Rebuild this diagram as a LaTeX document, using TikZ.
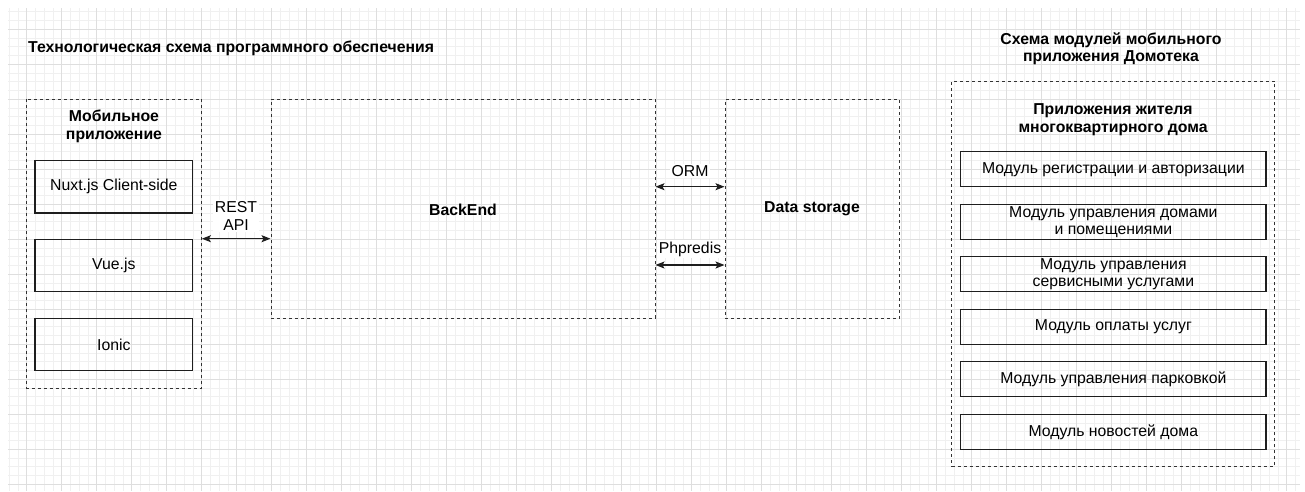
\documentclass[tikz,border=0pt]{standalone}
\usepackage{fontspec}
\setmainfont{Liberation Sans}
\usetikzlibrary{arrows.meta}
\definecolor{minorgrid}{HTML}{F0F0F0}
\definecolor{majorgrid}{HTML}{DEDEDE}
\definecolor{dashcol}{HTML}{333333}
\definecolor{boxcol}{HTML}{1E1E1E}
\tikzset{
  txt/.style={font=\fontsize{15.8}{17.8}\selectfont, inner sep=0pt, align=center},
  btxt/.style={txt, font=\fontsize{15.8}{17.8}\selectfont\bfseries},
  dbox/.style={draw=dashcol, line width=1pt, dash pattern=on 3pt off 3pt},
  sbox/.style={draw=boxcol, line width=1.3pt},
  elabel/.style={txt, fill=white, inner sep=1.5pt},
  biarrow/.style={draw=boxcol, line width=1.1pt, {Stealth[length=9pt,width=7pt,inset=2pt]}-{Stealth[length=9pt,width=7pt,inset=2pt]}},
}
\begin{document}
\begin{tikzpicture}[x=1pt,y=-1pt]
\useasboundingbox (0,0) rectangle (1305,491);
\fill[white] (0,0) rectangle (1305,491);
% grid
\foreach \k in {-2,...,145} {\draw[minorgrid, line width=0.8pt] ({26.7+8.75*\k},8.3) -- ({26.7+8.75*\k},491);}
\foreach \k in {-2,...,52} {\draw[minorgrid, line width=0.8pt] (8.3,{29.3+8.75*\k}) -- (1300,{29.3+8.75*\k});}
\foreach \k in {0,4,...,144} {\draw[majorgrid, line width=0.9pt] ({26.7+8.75*\k},8.3) -- ({26.7+8.75*\k},491);}
\foreach \k in {0,4,...,52} {\draw[majorgrid, line width=0.9pt] (8.3,{29.3+8.75*\k}) -- (1300,{29.3+8.75*\k});}

% titles
\node[btxt, anchor=west] (t1) at (28,48.5) {Технологическая схема программного обеспечения};
\node[btxt] (t2) at (1111,48.8) {Схема модулей мобильного\\приложения Домотека};

% edge labels (white background)
\node[elabel] (lrest) at (236,216) {REST\\API};
\node[elabel] (lorm) at (690,171) {ORM};
\node[elabel] (lphp) at (690,249) {Phpredis};

% left: mobile app
\path[dbox] (26.7,99.3) rectangle (201.7,388.3);
\node[inner sep=0pt, minimum width=175pt, minimum height=289pt] (mob) at (114.2,243.8) {};
\node[btxt] (mobl) at (114,126.5) {Мобильное\\приложение};
\node[sbox, txt, minimum width=157.7pt, minimum height=52.7pt] (nuxt) at (113.85,186.65) {Nuxt.js Client-side};
\node[sbox, txt, minimum width=157.7pt, minimum height=52.4pt] (vue) at (113.85,265.5) {Vue.js};
\node[sbox, txt, minimum width=157.7pt, minimum height=52.4pt] (ionic) at (113.85,344.5) {Ionic};

% backend
\node[dbox, minimum width=384pt, minimum height=219pt, inner sep=0pt] (be) at (463,208.8) {};
\node[btxt] (bel) at (463,209.5) {BackEnd};

% data storage
\node[dbox, minimum width=174.3pt, minimum height=219pt, inner sep=0pt] (ds) at (812.15,208.8) {};
\node[btxt] (dsl) at (812,208.5) {Data storage};

% arrows
\coordinate (yrest) at (0,238.7);
\coordinate (yorm) at (0,186.7);
\coordinate (yphp) at (0,265);
\draw[biarrow] (mob.east |- yrest) -- (be.west |- yrest);
\draw[biarrow] (be.east |- yorm) -- (ds.west |- yorm);
\draw[biarrow] (be.east |- yphp) -- (ds.west |- yphp);

% right: modules
\node[dbox, minimum width=322.6pt, minimum height=385.7pt, inner sep=0pt] (mods) at (1113,273.85) {};
\node[btxt] (modl) at (1113,119.5) {Приложения жителя\\многоквартирного дома};
\tikzset{modbox/.style={sbox, txt, minimum width=305.3pt, minimum height=35pt}}
\node[modbox] (m1) at (1113.35,169.2) {Модуль регистрации и авторизации};
\node[modbox] (m2) at (1113.35,222.15) {Модуль управления домами\\и помещениями};
\node[modbox] (m3) at (1113.35,274.2) {Модуль управления\\сервисными услугами};
\node[modbox] (m4) at (1113.35,326.8) {Модуль оплаты услуг};
\node[modbox] (m5) at (1113.35,379.2) {Модуль управления парковкой};
\node[modbox] (m6) at (1113.35,431.8) {Модуль новостей дома};
\end{tikzpicture}
\end{document}
